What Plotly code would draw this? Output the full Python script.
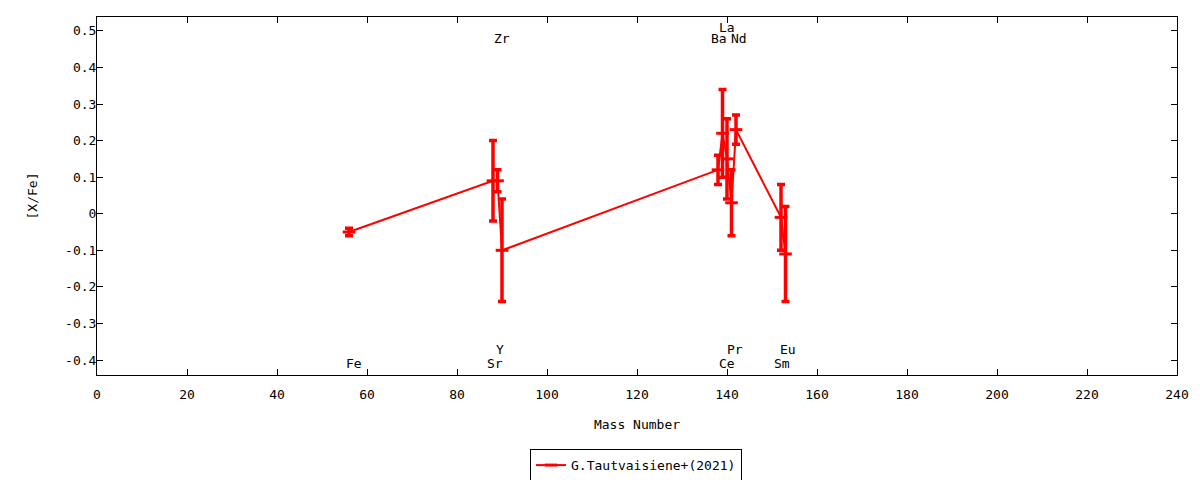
import plotly.graph_objects as go

##############################################################################
# Data
##############################################################################
elements = ["Fe", "Sr", "Y", "Zr", "Ba", "La", "Ce", "Pr", "Nd", "Sm", "Eu"]
mass_number = [56, 88, 89, 90, 138, 139, 140, 141, 142, 152, 153]
x_fe = [-0.05, 0.09, 0.09, -0.10, 0.12, 0.22, 0.15, 0.03, 0.23, -0.01, -0.11]
x_fe_err = [0.01, 0.11, 0.03, 0.14, 0.04, 0.12, 0.11, 0.09, 0.04, 0.09, 0.13]

# element labels: name, x position (mass), y level
label_names = ["Fe", "Sr", "Y", "Zr", "Ba", "La", "Nd", "Ce", "Pr", "Sm", "Eu"]
label_x = [57, 88.4, 89.6, 90, 138.3, 139.9, 142.6, 140.1, 141.8, 152.2, 153.6]
label_y = [-0.41, -0.41, -0.37, 0.48, 0.48, 0.51, 0.48, -0.41, -0.37, -0.41, -0.37]

x_ticks = list(range(0, 241, 20))
y_ticks = [-0.4, -0.3, -0.2, -0.1, 0, 0.1, 0.2, 0.3, 0.4, 0.5]
y_tick_text = ["-0.4", "-0.3", "-0.2", "-0.1", "0", "0.1", "0.2", "0.3", "0.4", "0.5"]

series_name = "G.Tautvaisiene+(2021)"

##############################################################################
# Figure
##############################################################################
font = dict(family="DejaVu Sans Mono", size=13, color="black")
red = "rgb(255,0,0)"

fig = go.Figure()
fig.add_trace(go.Scatter(
    x=mass_number, y=x_fe, name=series_name, mode="lines+markers",
    line=dict(color=red, width=2),
    marker=dict(symbol="line-ew", size=9, line=dict(color=red, width=3)),
    error_y=dict(type="data", array=x_fe_err, color=red, thickness=3.5, width=4),
))

for name, lx, ly in zip(label_names, label_x, label_y):
    fig.add_annotation(x=lx, y=ly, text=name, showarrow=False, font=font,
                       xanchor="center", yanchor="middle")

axis_common = dict(showline=True, linecolor="black", linewidth=1, mirror="allticks",
                   ticks="inside", ticklen=6, tickcolor="black", showgrid=False,
                   zeroline=False, tickfont=font, automargin=False)

fig.update_xaxes(range=[0, 240], tickvals=x_ticks, ticklabelstandoff=7,
                 title=dict(text="Mass Number", font=font, standoff=19), **axis_common)
fig.update_yaxes(range=[-0.441, 0.538], tickvals=y_ticks, ticktext=y_tick_text,
                 ticklabelstandoff=-3,
                 title=dict(text="[X/Fe]", font=font, standoff=24), **axis_common)

fig.update_layout(
    width=1200, height=480,
    margin=dict(l=97, r=23, t=17, b=105),
    plot_bgcolor="white", paper_bgcolor="white",
    font=font,
    showlegend=True,
    legend=dict(xref="container", yref="container", orientation="h",
                x=0.53, y=0.031, xanchor="center", yanchor="middle",
                bordercolor="black", borderwidth=1, font=font,
                bgcolor="white"),
)

# page body margin off so the 1200x480 figure fills the window exactly
fig.write_html("out.html", config={"displayModeBar": False},
               post_script="document.body.style.margin='0';")
